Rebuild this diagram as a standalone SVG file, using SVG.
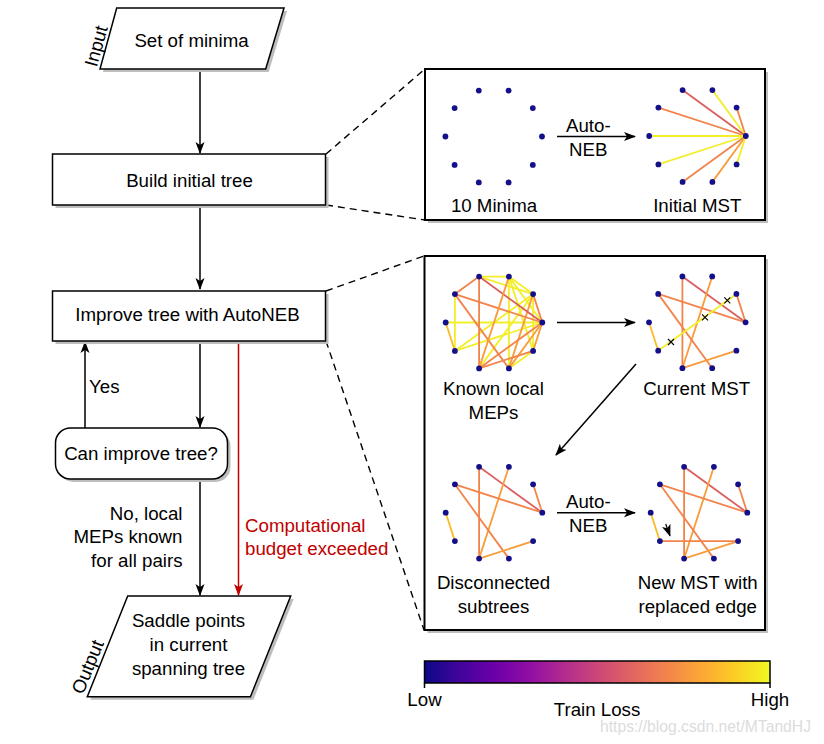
<svg xmlns="http://www.w3.org/2000/svg" xmlns:xlink="http://www.w3.org/1999/xlink" width="824" height="744" viewBox="0 0 824 744">
<style>
text{font-family:"Liberation Sans",Arial,sans-serif;font-size:18.7px;fill:#000}
.c{text-anchor:middle}
.e{text-anchor:end}
.box{fill:#fff;stroke:#000;stroke-width:1.5}
.sh{fill:#bdbdbd;stroke:none}
.panel{fill:#fff;stroke:#000;stroke-width:2}
.ln{stroke:#000;stroke-width:1.5;fill:none}
.red{stroke:#c00000;stroke-width:1.5;fill:none}
.dash{stroke:#000;stroke-width:1.4;fill:none;stroke-dasharray:7,5}
.ed line{stroke-width:1.8}
.r{stroke:#dc5f5f}.o{stroke:#f2844b}.lo{stroke:#f89c3c}.y{stroke:#f3ee2a}.oy{stroke:#fbbb2a}
.dot{fill:#14108a}
</style>
<defs>
<marker id="ah" viewBox="0 0 12 10" refX="11" refY="5" markerWidth="12" markerHeight="10" markerUnits="userSpaceOnUse" orient="auto">
<path d="M0,0.5 L12,5 L0,9.5 L3,5 z" fill="#000"/>
</marker>
<marker id="ahr" viewBox="0 0 12 10" refX="11" refY="5" markerWidth="12" markerHeight="10" markerUnits="userSpaceOnUse" orient="auto">
<path d="M0,0.5 L12,5 L0,9.5 L3,5 z" fill="#c00000"/>
</marker>
<g id="dots">
<circle class="dot" cx="48.3" cy="0" r="2.9"/><circle class="dot" cx="39.1" cy="-28.4" r="2.9"/>
<circle class="dot" cx="14.9" cy="-45.9" r="2.9"/><circle class="dot" cx="-14.9" cy="-45.9" r="2.9"/>
<circle class="dot" cx="-39.1" cy="-28.4" r="2.9"/><circle class="dot" cx="-48.3" cy="0" r="2.9"/>
<circle class="dot" cx="-39.1" cy="28.4" r="2.9"/><circle class="dot" cx="-14.9" cy="45.9" r="2.9"/>
<circle class="dot" cx="14.9" cy="45.9" r="2.9"/><circle class="dot" cx="39.1" cy="28.4" r="2.9"/>
</g>
<g id="subtrees" class="ed">
<line class="o" x1="-14.9" y1="-45.9" x2="-14.9" y2="45.9"/>
<line class="r" x1="-14.9" y1="-45.9" x2="48.3" y2="0"/>
<line class="lo" x1="14.9" y1="-45.9" x2="-14.9" y2="45.9"/>
<line class="o" x1="-39.1" y1="-28.4" x2="48.3" y2="0"/>
<line class="o" x1="-39.1" y1="-28.4" x2="14.9" y2="45.9"/>
<line class="o" x1="39.1" y1="-28.4" x2="48.3" y2="0"/>
<line class="oy" x1="-48.3" y1="0" x2="-39.1" y2="28.4"/>
<line class="lo" x1="39.1" y1="28.4" x2="-14.9" y2="45.9"/>
</g>
<linearGradient id="plasma" x1="0" y1="0" x2="1" y2="0">
<stop offset="0" stop-color="#0d0887"/><stop offset="0.1" stop-color="#41049d"/>
<stop offset="0.2" stop-color="#6a00a8"/><stop offset="0.3" stop-color="#8f0da4"/>
<stop offset="0.4" stop-color="#b12a90"/><stop offset="0.5" stop-color="#cc4778"/>
<stop offset="0.6" stop-color="#e16462"/><stop offset="0.7" stop-color="#f2844b"/>
<stop offset="0.8" stop-color="#fca636"/><stop offset="0.9" stop-color="#fcce25"/>
<stop offset="1" stop-color="#f0f921"/>
</linearGradient>
</defs>
<rect width="824" height="744" fill="#fff"/>

<g id="connectors">
<line class="ln" x1="200" y1="69" x2="200" y2="153" marker-end="url(#ah)"/>
<line class="ln" x1="200" y1="205" x2="200" y2="289" marker-end="url(#ah)"/>
<line class="ln" x1="200" y1="341" x2="200" y2="427" marker-end="url(#ah)"/>
<line class="ln" x1="85" y1="428" x2="85" y2="342" marker-end="url(#ah)"/>
<line class="ln" x1="200" y1="479" x2="200" y2="595" marker-end="url(#ah)"/>
<line class="red" x1="238.5" y1="341" x2="238.5" y2="595" marker-end="url(#ahr)"/>
<line class="dash" x1="326" y1="154" x2="425" y2="69"/>
<line class="dash" x1="326" y1="205" x2="425" y2="220"/>
<line class="dash" x1="326" y1="291" x2="424" y2="256"/>
<line class="dash" x1="326" y1="341" x2="424" y2="630"/>
<text x="89" y="393">Yes</text>
<text class="e" x="182.5" y="519.5">No, local</text>
<text class="e" x="182.5" y="543">MEPs known</text>
<text class="e" x="182.5" y="566.5">for all pairs</text>
<text x="245" y="531.5" style="fill:#c00000">Computational</text>
<text x="245" y="555" style="fill:#c00000">budget exceeded</text>
</g>

<g id="input">
<polygon class="sh" points="119.7,11 287,11 268.7,72 103,72"/>
<polygon class="box" points="116.7,8 284,8 265.7,69 100,69"/>
<text class="c" x="191.5" y="46.5">Set of minima</text>
<text class="c" transform="translate(102.3,47.7) rotate(-74.4)">Input</text>
</g>

<g id="build">
<rect class="sh" x="55.5" y="157" width="273" height="51"/>
<rect class="box" x="52.5" y="154" width="273" height="51"/>
<text class="c" x="189.5" y="186.5">Build initial tree</text>
</g>

<g id="improve">
<rect class="sh" x="55.5" y="294" width="273" height="50"/>
<rect class="box" x="52.5" y="291" width="273" height="50"/>
<text class="c" x="187.5" y="321">Improve tree with AutoNEB</text>
</g>

<g id="decision">
<rect class="sh" x="58.5" y="431" width="172" height="51" rx="15"/>
<rect class="box" x="55.5" y="428" width="172" height="51" rx="15"/>
<text class="c" x="141" y="459.5">Can improve tree?</text>
</g>

<g id="output">
<polygon class="sh" points="130.7,599 293.7,599 253.4,699.7 90.3,699.7"/>
<polygon class="box" points="127.7,596 290.7,596 250.4,696.7 87.3,696.7"/>
<text class="c" x="188.5" y="627.3">Saddle points</text>
<text class="c" x="188.5" y="651">in current</text>
<text class="c" x="188.5" y="675">spanning tree</text>
<text class="c" transform="translate(93.5,669.2) rotate(-67.8)">Output</text>
</g>

<g id="panel-top">
<rect class="sh" x="428" y="72" width="340" height="151"/>
<rect class="panel" x="425" y="69" width="340" height="151"/>
<use xlink:href="#dots" transform="translate(493.7,136.5)"/>
<line class="ln" x1="557" y1="136.5" x2="635" y2="136.5" marker-end="url(#ah)"/>
<text class="c" x="588.3" y="131.5">Auto-</text>
<text class="c" x="588.3" y="155.5">NEB</text>
<g class="ed" transform="translate(697.5,136)">
<line class="o" x1="48.3" y1="0" x2="39.1" y2="-28.4"/>
<line class="y" x1="48.3" y1="0" x2="14.9" y2="-45.9"/>
<line class="r" x1="48.3" y1="0" x2="-14.9" y2="-45.9"/>
<line class="o" x1="48.3" y1="0" x2="-39.1" y2="-28.4"/>
<line class="y" x1="48.3" y1="0" x2="-48.3" y2="0"/>
<line class="y" x1="48.3" y1="0" x2="-39.1" y2="28.4"/>
<line class="o" x1="48.3" y1="0" x2="-14.9" y2="45.9"/>
<line class="lo" x1="48.3" y1="0" x2="14.9" y2="45.9"/>
<line class="y" x1="48.3" y1="0" x2="39.1" y2="28.4"/>
<use xlink:href="#dots"/>
</g>
<text class="c" x="494" y="211.5">10 Minima</text>
<text class="c" x="697.3" y="211.5">Initial MST</text>
</g>

<g id="panel-bottom">
<rect class="sh" x="427.5" y="259" width="340.5" height="374"/>
<rect class="panel" x="424.5" y="256" width="340.5" height="374"/>
<g class="ed" transform="translate(494,322.5)">
<line class="y" x1="-14.9" y1="-45.9" x2="14.9" y2="-45.9"/>
<line class="y" x1="-14.9" y1="-45.9" x2="39.1" y2="-28.4"/>
<line class="y" x1="-39.1" y1="-28.4" x2="-39.1" y2="28.4"/>
<line class="y" x1="-48.3" y1="0" x2="48.3" y2="0"/>
<line class="y" x1="-39.1" y1="28.4" x2="39.1" y2="-28.4"/>
<line class="y" x1="-39.1" y1="28.4" x2="48.3" y2="0"/>
<line class="y" x1="14.9" y1="-45.9" x2="14.9" y2="45.9"/>
<line class="y" x1="14.9" y1="-45.9" x2="39.1" y2="-28.4"/>
<line class="y" x1="14.9" y1="-45.9" x2="48.3" y2="0"/>
<line class="y" x1="14.9" y1="-45.9" x2="39.1" y2="28.4"/>
<line class="y" x1="39.1" y1="-28.4" x2="-14.9" y2="45.9"/>
<line class="y" x1="39.1" y1="-28.4" x2="39.1" y2="28.4"/>
<line class="lo" x1="39.1" y1="-28.4" x2="14.9" y2="45.9"/>
<line class="y" x1="39.1" y1="28.4" x2="14.9" y2="45.9"/>
<line class="o" x1="-14.9" y1="-45.9" x2="-39.1" y2="-28.4"/>
<line class="o" x1="-14.9" y1="-45.9" x2="-14.9" y2="45.9"/>
<line class="r" x1="-14.9" y1="-45.9" x2="48.3" y2="0"/>
<line class="o" x1="-39.1" y1="-28.4" x2="48.3" y2="0"/>
<line class="o" x1="-39.1" y1="-28.4" x2="14.9" y2="45.9"/>
<line class="oy" x1="-48.3" y1="0" x2="-39.1" y2="28.4"/>
<line class="lo" x1="14.9" y1="-45.9" x2="-14.9" y2="45.9"/>
<line class="o" x1="39.1" y1="-28.4" x2="48.3" y2="0"/>
<line class="lo" x1="48.3" y1="0" x2="39.1" y2="28.4"/>
<line class="o" x1="48.3" y1="0" x2="-14.9" y2="45.9"/>
<line class="lo" x1="48.3" y1="0" x2="14.9" y2="45.9"/>
<line class="o" x1="39.1" y1="28.4" x2="-14.9" y2="45.9"/>
<use xlink:href="#dots"/>
</g>
<g transform="translate(697.3,322.3)">
<use xlink:href="#subtrees"/>
<line class="y" x1="-39.1" y1="28.4" x2="39.1" y2="-28.4" style="stroke-width:1.8"/>
<path class="ln" style="stroke-width:1.1" d="M-29.3,16.7 l6,6 M-23.3,16.7 l-6,6 M4.7,-8 l6,6 M10.7,-8 l-6,6 M27,-25 l6,6 M33,-25 l-6,6"/>
<use xlink:href="#dots"/>
</g>
<g transform="translate(494,512.7)">
<use xlink:href="#subtrees"/>
<use xlink:href="#dots"/>
</g>
<g transform="translate(699,512.7)">
<use xlink:href="#subtrees"/>
<line class="o" x1="-39.1" y1="28.4" x2="39.1" y2="28.4" style="stroke-width:1.8"/>
<line class="ln" style="stroke-width:1.2" x1="-33.3" y1="11.3" x2="-29" y2="23" marker-end="url(#ah)"/>
<use xlink:href="#dots"/>
</g>
<line class="ln" x1="557" y1="322.5" x2="635" y2="322.5" marker-end="url(#ah)"/>
<line class="ln" x1="636" y1="364" x2="556" y2="455" marker-end="url(#ah)"/>
<line class="ln" x1="557" y1="512.7" x2="635" y2="512.7" marker-end="url(#ah)"/>
<text class="c" x="588.3" y="507.7">Auto-</text>
<text class="c" x="588.3" y="531.7">NEB</text>
<text class="c" x="493.5" y="395.3">Known local</text>
<text class="c" x="493.5" y="418.7">MEPs</text>
<text class="c" x="696.7" y="395.3">Current MST</text>
<text class="c" x="493.5" y="589.3">Disconnected</text>
<text class="c" x="493.5" y="612.7">subtrees</text>
<text class="c" x="697.7" y="589.3">New MST with</text>
<text class="c" x="697.7" y="612.7">replaced edge</text>
</g>

<g id="colorbar">
<rect x="424.5" y="661" width="345.5" height="22" fill="url(#plasma)" stroke="#000" stroke-width="1.5"/>
<line class="ln" x1="424.5" y1="683" x2="424.5" y2="688"/>
<line class="ln" x1="770" y1="683" x2="770" y2="688"/>
<text class="c" x="424.5" y="706">Low</text>
<text class="c" x="770" y="706">High</text>
<text class="c" x="597" y="716">Train Loss</text>
<text x="600" y="731.7" style="font-size:15.7px;fill:#dcdcdc">https://blog.csdn.net/MTandHJ</text>
</g>
</svg>
